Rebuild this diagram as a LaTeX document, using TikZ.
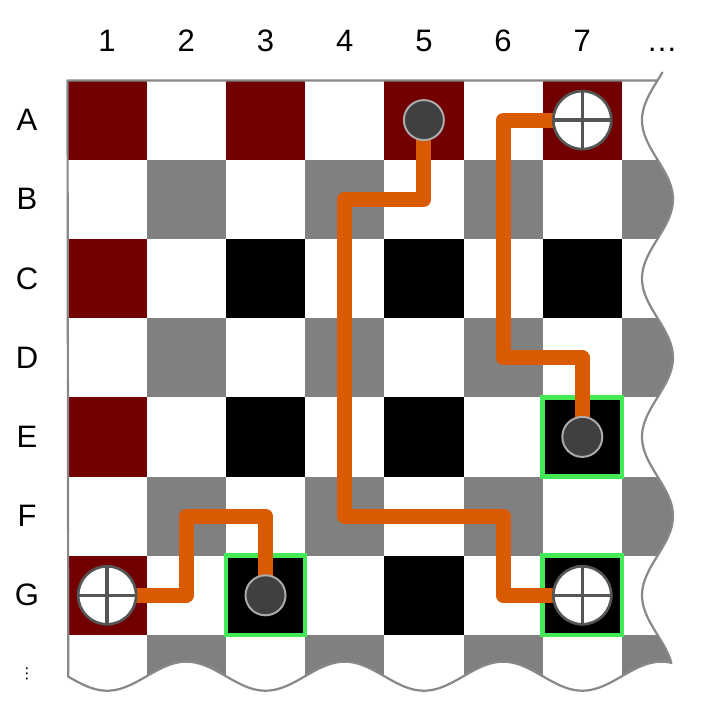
\documentclass[tikz,border=0pt]{standalone}
\usepackage{fontspec}
\setmainfont{Liberation Sans}
\newfontfamily\dejavu{DejaVu Sans}
\definecolor{boardred}{RGB}{115,0,0}
\definecolor{boardgray}{RGB}{128,128,128}
\definecolor{rimgray}{RGB}{136,136,136}
\definecolor{routeorange}{RGB}{217,90,0}
\definecolor{goalgreen}{RGB}{68,234,85}
\definecolor{piecedark}{RGB}{64,64,64}
\definecolor{piecerim}{RGB}{170,170,170}
\definecolor{crossgray}{RGB}{85,85,85}
\pgfdeclarelayer{board}
\pgfdeclarelayer{routes}
\pgfsetlayers{board,routes,main}
\begin{document}
\begin{tikzpicture}[x=1pt,y=-1pt]
\tikzset{
  lbl/.style={font=\fontsize{31}{37}\selectfont, inner sep=0pt},
  route/.style={draw=routeorange, line width=15pt, line join=round},
  goal/.style={draw=goalgreen, line width=4.5pt},
  rim/.style={draw=rimgray, line width=2.2pt, line join=round},
  darkpiece/.style={circle, fill=piecedark, draw=piecerim, line width=2pt, minimum size=40pt, inner sep=0pt},
  crosspiece/.style={circle, fill=white, draw=crossgray, line width=2.7pt, minimum size=58pt, inner sep=0pt,
    path picture={\draw[crossgray, line width=3.5pt]
      (path picture bounding box.north) -- (path picture bounding box.south)
      (path picture bounding box.west) -- (path picture bounding box.east);}}
}
\def\xo{67.5}
\def\yo{80.5}
\def\cw{79.2}
\def\kk{2.27273}
\useasboundingbox (0,0) rectangle (712,711);

% labels
\foreach \n in {1,...,7}
  \node[lbl, anchor=base] (col\n) at ({\xo+(\n-0.5)*\cw}, 52) {\n};
\node[lbl, anchor=base] (colmore) at (662, 52) {…};
\foreach \l [count=\i] in {A,B,C,D,E,F,G}
  \node[lbl] (row\l) at (27, {\yo+(\i-0.5)*\cw}) {\l};
\node[font=\dejavu\fontsize{15}{15}\selectfont, inner sep=0pt] (rowmore) at (27,674) {⋮};

% pieces
\node[darkpiece] (pA5) at ({\xo+4.5*\cw}, {\yo+0.5*\cw}) {};
\node[crosspiece] (pA7) at ({\xo+6.5*\cw}, {\yo+0.5*\cw}) {};
\node[darkpiece] (pE7) at ({\xo+6.5*\cw}, {\yo+4.5*\cw}) {};
\node[crosspiece] (pG1) at ({\xo+0.5*\cw}, {\yo+6.5*\cw}) {};
\node[darkpiece] (pG3) at ({\xo+2.5*\cw}, {\yo+6.5*\cw}) {};
\node[crosspiece] (pG7) at ({\xo+6.5*\cw}, {\yo+6.5*\cw}) {};

% board
\begin{pgfonlayer}{board}
\fill[white] (0,0) rectangle (712,711);
\begin{scope}
\clip (\xo,\yo) -- (657.5,\yo)
  -- plot[domain=80.5:663, samples=120, smooth] ({657.5-15.5*cos(\kk*(\x-120.1))}, \x)
  -- plot[domain=0:1, samples=120, smooth] ({671-\x*603.5}, {676.2+14.5*cos(\kk*(563.9-\x*603.5))})
  -- cycle;
\foreach \c/\r in {0/0,2/0,4/0,6/0,0/2,0/4,0/6}
  \fill[boardred] ({\xo+\c*\cw},{\yo+\r*\cw}) rectangle ++(\cw,\cw);
\foreach \c/\r in {2/2,4/2,6/2,2/4,4/4,6/4,2/6,4/6,6/6}
  \fill[black] ({\xo+\c*\cw},{\yo+\r*\cw}) rectangle ++(\cw,\cw);
\foreach \c in {1,3,5,7}
  \foreach \r in {1,3,5,7}
    \fill[boardgray] ({\xo+\c*\cw},{\yo+\r*\cw}) rectangle ++(\cw,\cw);
\end{scope}
\draw[rim] plot[domain=72:663, samples=120, smooth] ({657.5-15.5*cos(\kk*(\x-120.1))}, \x)
  -- plot[domain=0:1, samples=120, smooth] ({671-\x*603.5}, {676.2+14.5*cos(\kk*(563.9-\x*603.5))})
  -- (\xo,\yo) -- (657.5,\yo);
\foreach \c/\r in {2/6,6/4,6/6}
  \draw[goal] ({\xo+\c*\cw},{\yo+\r*\cw}) rectangle ++(\cw,\cw);
\end{pgfonlayer}

% routes
\begin{pgfonlayer}{routes}
\draw[route] (pG1.center) -| ({\xo+1.5*\cw},{\yo+5.5*\cw}) -| (pG3.center);
\draw[route] (pA5.center) |- ({\xo+3.5*\cw},{\yo+1.5*\cw}) |- ({\xo+5.5*\cw},{\yo+5.5*\cw}) |- (pG7.center);
\draw[route] (pA7.center) -| ({\xo+5.5*\cw},{\yo+3.5*\cw}) -| (pE7.center);
\end{pgfonlayer}
\end{tikzpicture}
\end{document}
